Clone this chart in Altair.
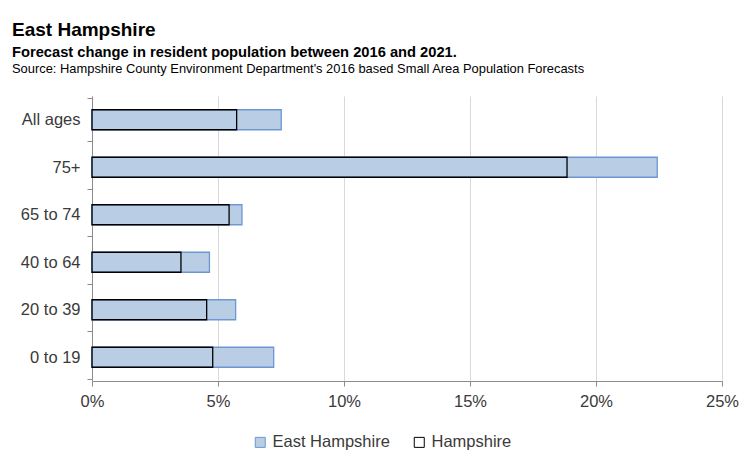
import altair as alt
import pandas as pd

ages = ["All ages", "75+", "65 to 74", "40 to 64", "20 to 39", "0 to 19"]
east_hampshire = [0.0751, 0.2243, 0.0595, 0.0466, 0.0570, 0.0721]
hampshire = [0.0574, 0.1885, 0.0544, 0.0353, 0.0455, 0.0479]
series_names = ["East Hampshire", "Hampshire"]
x_ticks = [0, 0.05, 0.10, 0.15, 0.20, 0.25]

title_text = "East Hampshire"
subtitle_text = "Forecast change in resident population between 2016 and 2021."
source_text = "Source: Hampshire County Environment Department's 2016 based Small Area Population Forecasts"

rows = []
for a, v in zip(ages, east_hampshire):
    rows.append({"age": a, "series": series_names[0], "value": v})
for a, v in zip(ages, hampshire):
    rows.append({"age": a, "series": series_names[1], "value": v})
df = pd.DataFrame(rows)

FONT = "Liberation Sans"
LABEL = "#3a3a3a"
AXISC = "#8c8c8c"
LBL_SIZE = 16.5

legend = alt.Legend(
    title=None, orient="none", legendX=160, legendY=338, direction="horizontal",
    symbolType="square", symbolSize=100, symbolStrokeWidth=1,
    labelFontSize=LBL_SIZE, labelFont=FONT, labelColor=LABEL, columnPadding=21, labelOffset=4,
)

x_enc = alt.X(
    "value:Q", stack=None,
    scale=alt.Scale(domain=[0, 0.25], nice=False),
    axis=alt.Axis(
        format=".0%", values=x_ticks, title=None, grid=True, gridColor="#d9d9d9",
        domainColor=AXISC, tickColor=AXISC, tickSize=5, labelFontSize=LBL_SIZE,
        labelFont=FONT, labelColor=LABEL, labelPadding=7, labelFlush=False,
    ),
)
y_enc = alt.Y(
    "age:N", sort=ages,
    axis=alt.Axis(
        title=None, tickBand="extent", grid=False, domainColor=AXISC, tickColor=AXISC,
        tickSize=5, labelFontSize=LBL_SIZE, labelFont=FONT, labelColor=LABEL,
        labelPadding=7,
    ),
)
fill_enc = alt.Fill(
    "series:N",
    scale=alt.Scale(domain=series_names, range=["#b9cde5", "transparent"]),
    legend=legend,
)
stroke_enc = alt.Stroke(
    "series:N",
    scale=alt.Scale(domain=series_names, range=["#6c97d4", "#000000"]),
    legend=legend,
)

base = alt.Chart(df).mark_bar(size=20, strokeWidth=1.3).encode(
    x=x_enc, y=y_enc, fill=fill_enc, stroke=stroke_enc
)
eh = base.transform_filter(alt.datum.series == series_names[0])
h = base.transform_filter(alt.datum.series == series_names[1])

t1 = alt.Chart(pd.DataFrame({"t": [title_text]})).mark_text(
    align="left", baseline="alphabetic", fontSize=19, fontWeight="bold", font=FONT, color="#000000"
).encode(text="t:N", x=alt.value(-80), y=alt.value(-60))
t2 = alt.Chart(pd.DataFrame({"t": [subtitle_text]})).mark_text(
    align="left", baseline="alphabetic", fontSize=14.7, fontWeight="bold", font=FONT, color="#000000"
).encode(text="t:N", x=alt.value(-80), y=alt.value(-39))
t3 = alt.Chart(pd.DataFrame({"t": [source_text]})).mark_text(
    align="left", baseline="alphabetic", fontSize=12.9, font=FONT, color="#000000"
).encode(text="t:N", x=alt.value(-80), y=alt.value(-23))

chart = alt.layer(eh, h, t1, t2, t3).properties(
    width=630, height=285,
    background="white",
    autosize=alt.AutoSizeParams(type="none"),
    padding={"left": 92, "top": 96, "right": 18, "bottom": 71},
).configure_view(strokeWidth=0, stroke=None)

chart.save("out.html", embed_options={"renderer": "svg", "actions": False})
